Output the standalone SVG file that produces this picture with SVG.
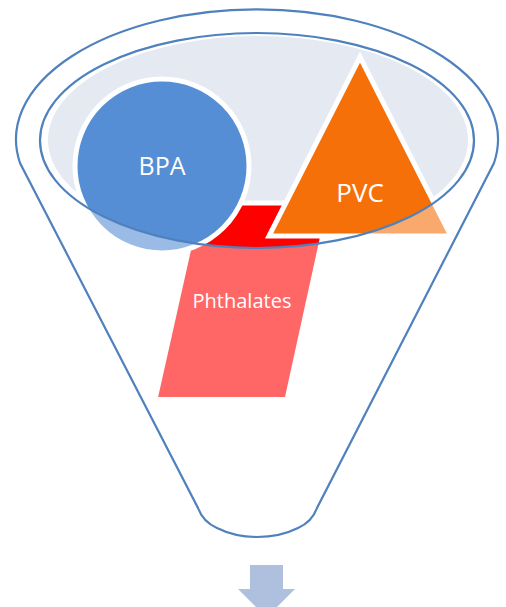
<svg xmlns="http://www.w3.org/2000/svg" width="506" height="607" viewBox="0 0 506 607">
<style>
.outline{fill:none;stroke:#4F81BD;stroke-width:2.2}
.shape{stroke:#FFFFFF;stroke-width:5;stroke-linejoin:miter}
.lbl{font-family:"Open Sans","Liberation Sans",sans-serif;fill:#FFFFFF;text-anchor:middle}
</style>
<rect width="506" height="607" fill="#FFFFFF"/>
<g id="funnel-fill">
<ellipse cx="258" cy="140" rx="210" ry="104" fill="#E4E9F2"/>
</g>
<g id="node-phthalates">
<polygon class="shape" points="199,203 330,203 287,399.5 155,399.5" fill="#FF0000"/>
</g>
<g id="node-bpa">
<circle class="shape" cx="162" cy="166" r="87" fill="#558ED5"/>
</g>
<g id="node-pvc">
<polygon class="shape" points="360,57 269,236 451,236" fill="#F6700A"/>
</g>
<path id="front-fade" d="M0,0 H506 V607 H0 Z M40,140.5 A217,107.5 0 1,0 474,140.5 A217,107.5 0 1,0 40,140.5 Z" fill="#FFFFFF" fill-opacity="0.4" fill-rule="evenodd"/>
<g id="funnel">
<path class="outline" d="M20,163 A241,130 0 1,1 494,163 L317,508 Q312,522 298,528 Q280,537 257,537 Q235,537 217,528 Q203,522 198,508 Z"/>
<ellipse class="outline" cx="257" cy="140.5" rx="217" ry="107.5"/>
</g>
<g id="labels">
<text class="lbl" x="162" y="175" font-size="25">BPA</text>
<text class="lbl" x="360" y="202" font-size="26">PVC</text>
<text class="lbl" x="242" y="308" font-size="20">Phthalates</text>
</g>
<g id="connectors">
<polygon points="250,565 283,565 283,589 295,589 266.5,617.5 238,589 250,589" fill="#AFC0DE"/>
</g>
</svg>
